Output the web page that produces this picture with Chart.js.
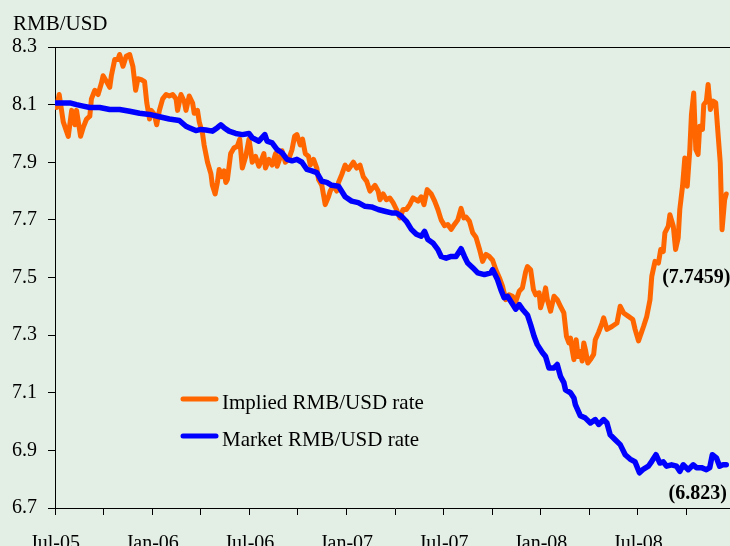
<!DOCTYPE html>
<html><head><meta charset="utf-8">
<script src="https://cdn.jsdelivr.net/npm/chart.js@4.4.0/dist/chart.umd.min.js"></script>
<style>
html,body{margin:0;padding:0;overflow:hidden;background:#E3EEE4;}
canvas{display:block;}
</style></head><body>
<canvas id="c" width="752" height="560" style="width:752px;height:560px"></canvas>
<script>
// months since Jul-2005 (x) and rates (y)
const implMonths = [
0.10,0.26,0.51,0.82,1.03,1.23,1.33,1.58,1.74,1.95,
2.15,2.25,2.46,2.66,2.87,2.97,3.18,3.38,3.48,3.69,
3.89,3.99,4.20,4.40,4.61,4.81,4.98,5.12,5.33,5.53,
5.67,5.84,5.94,6.14,6.28,6.45,6.65,6.86,7.06,7.27,
7.48,7.57,7.78,7.99,8.09,8.29,8.50,8.60,8.80,8.91,
9.11,9.21,9.42,9.63,9.72,9.89,10.03,10.14,10.30,10.44,
10.55,10.65,10.85,11.06,11.26,11.41,11.57,11.78,11.98,12.08,
12.18,12.39,12.59,12.70,12.90,13.00,13.21,13.41,13.62,13.72,
13.93,14.02,14.23,14.43,14.64,14.80,14.94,15.15,15.29,15.46,
15.66,15.77,15.97,16.17,16.28,16.48,16.69,16.89,17.00,17.20,
17.40,17.51,17.71,17.92,18.12,18.43,18.63,18.84,19.04,19.25,
19.45,19.76,19.96,20.07,20.27,20.47,20.68,20.88,21.09,21.30,
21.50,21.70,21.91,22.11,22.42,22.62,22.79,22.99,23.24,23.45,
23.65,23.85,24.06,24.26,24.47,24.67,24.88,25.08,25.25,25.39,
25.60,25.80,26.00,26.21,26.41,26.62,26.82,27.03,27.23,27.44,
27.64,27.84,28.05,28.26,28.46,28.67,28.87,29.07,29.18,29.38,
29.55,29.69,29.90,29.99,30.20,30.30,30.41,30.61,30.82,31.02,
31.22,31.43,31.59,31.74,31.84,31.94,32.05,32.19,32.31,32.45,
32.56,32.66,32.76,32.91,33.07,33.27,33.37,33.58,33.78,33.89,
34.09,34.40,34.71,34.91,35.12,35.42,35.69,35.83,36.04,36.35,
36.55,36.75,36.86,37.06,37.27,37.41,37.57,37.67,37.88,37.98,
38.19,38.33,38.49,38.59,38.76,38.90,39.05,39.21,39.31,39.45,
39.58,39.72,39.82,39.99,40.07,40.23,40.34,40.48,40.65,40.81,
40.95,41.09,41.20,41.36,41.46
];
const implRate = [
8.09,8.135,8.04,7.99,8.08,8.03,8.08,7.99,8.02,8.05,
8.06,8.12,8.15,8.135,8.175,8.20,8.18,8.16,8.20,8.257,
8.257,8.274,8.233,8.268,8.274,8.233,8.15,8.19,8.187,8.18,
8.106,8.05,8.08,8.066,8.03,8.08,8.12,8.135,8.13,8.135,
8.12,8.08,8.135,8.11,8.08,8.13,8.105,8.07,8.08,8.04,
8.00,7.96,7.90,7.86,7.82,7.79,7.83,7.875,7.85,7.87,
7.83,7.84,7.93,7.95,7.955,7.98,7.88,7.92,7.98,7.944,
7.90,7.92,7.886,7.90,7.93,7.88,7.91,7.89,7.93,7.886,
7.92,7.94,7.90,7.91,7.944,7.99,7.996,7.96,7.98,7.93,
7.92,7.89,7.91,7.88,7.84,7.82,7.753,7.78,7.80,7.82,
7.80,7.83,7.857,7.89,7.875,7.90,7.88,7.89,7.85,7.834,
7.80,7.82,7.80,7.77,7.79,7.77,7.776,7.76,7.736,7.707,
7.736,7.736,7.753,7.776,7.765,7.78,7.753,7.805,7.79,7.765,
7.736,7.70,7.68,7.684,7.667,7.684,7.70,7.74,7.707,7.71,
7.695,7.655,7.64,7.60,7.556,7.58,7.573,7.56,7.527,7.50,
7.47,7.423,7.44,7.435,7.417,7.452,7.464,7.52,7.538,7.527,
7.458,7.44,7.447,7.395,7.435,7.464,7.423,7.383,7.435,7.423,
7.40,7.377,7.296,7.273,7.29,7.25,7.215,7.284,7.226,7.243,
7.21,7.273,7.25,7.203,7.215,7.233,7.284,7.31,7.34,7.36,
7.32,7.33,7.342,7.40,7.377,7.365,7.354,7.32,7.28,7.33,
7.365,7.423,7.504,7.556,7.55,7.597,7.59,7.655,7.678,7.718,
7.678,7.597,7.637,7.736,7.817,7.915,7.817,7.944,8.066,8.14,
7.944,7.927,8.025,8.014,8.10,8.112,8.17,8.083,8.112,8.106,
8.0,7.898,7.666,7.77,7.79
];
const mktMonths = [
0.06,0.51,0.92,1.33,1.74,2.15,2.76,3.38,3.99,4.61,
5.22,5.84,6.45,7.06,7.68,8.09,8.29,8.70,9.01,9.32,
9.72,10.03,10.24,10.44,10.75,11.16,11.57,11.98,12.18,12.59,
12.96,13.10,13.41,13.72,14.02,14.33,14.64,14.94,15.25,15.56,
15.87,16.17,16.48,16.79,17.09,17.51,17.92,18.32,18.73,19.15,
19.55,19.96,20.37,20.78,21.09,21.39,21.70,22.01,22.32,22.62,
22.83,23.03,23.34,23.65,23.85,24.16,24.47,24.77,25.08,25.29,
25.49,25.80,26.11,26.52,26.92,27.03,27.33,27.54,27.74,27.95,
28.15,28.46,28.67,28.87,29.18,29.38,29.59,29.79,30.10,30.30,
30.51,30.82,31.02,31.22,31.43,31.53,31.84,32.05,32.14,32.45,
32.76,33.07,33.37,33.58,33.89,34.09,34.29,34.60,34.91,35.22,
35.52,35.83,36.10,36.35,36.65,36.86,37.12,37.36,37.57,37.77,
38.08,38.39,38.59,38.80,39.11,39.42,39.62,39.93,40.23,40.44,
40.60,40.85,41.05,41.26,41.46
];
const mktRate = [
8.106,8.106,8.106,8.10,8.095,8.09,8.09,8.083,8.083,8.077,
8.07,8.066,8.058,8.05,8.045,8.025,8.02,8.01,8.014,8.012,
8.008,8.02,8.03,8.02,8.008,8.0,7.996,8.0,7.985,7.973,
7.996,7.973,7.967,7.944,7.933,7.91,7.905,7.91,7.90,7.875,
7.87,7.864,7.834,7.83,7.82,7.817,7.78,7.765,7.76,7.747,
7.745,7.736,7.73,7.724,7.724,7.713,7.695,7.667,7.65,7.643,
7.66,7.632,7.62,7.597,7.573,7.567,7.573,7.573,7.60,7.573,
7.55,7.534,7.516,7.51,7.516,7.527,7.493,7.458,7.43,7.435,
7.417,7.39,7.406,7.39,7.37,7.336,7.296,7.267,7.24,7.226,
7.186,7.186,7.198,7.157,7.135,7.11,7.10,7.082,7.059,7.02,
7.012,6.995,7.007,6.99,7.007,6.995,6.954,6.937,6.92,6.885,
6.87,6.86,6.822,6.835,6.845,6.862,6.885,6.856,6.86,6.845,
6.85,6.845,6.827,6.85,6.833,6.85,6.84,6.84,6.833,6.84,
6.885,6.874,6.845,6.85,6.85
];
const seriesLabels = ['Implied RMB/USD rate', 'Market RMB/USD rate'];
const xTickMonths = [0,3,6,9,12,15,18,21,24,27,30,33,36,39,42];
const xLabelMonths = [0,6,12,18,24,30,36];
const xLabelTexts = ['Jul-05','Jan-06','Jul-06','Jan-07','Jul-07','Jan-08','Jul-08'];
const yTicks = [6.7,6.9,7.1,7.3,7.5,7.7,7.9,8.1,8.3];
const yUnit = 'RMB/USD';
const endLabels = ['(7.7459)', '(6.823)'];

const SERIF = '"Liberation Serif", "Times New Roman", serif';

const decor = {
  id: 'decor',
  afterDraw(chart) {
    const {ctx, chartArea: a, scales: {x, y}} = chart;
    ctx.save();
    ctx.strokeStyle = '#000'; ctx.lineWidth = 1;
    ctx.beginPath(); ctx.moveTo(a.left, Math.round(a.top) + 0.5); ctx.lineTo(a.right, Math.round(a.top) + 0.5); ctx.stroke();
    ctx.fillStyle = '#000';
    ctx.font = '21px ' + SERIF; ctx.textAlign = 'left'; ctx.textBaseline = 'alphabetic';
    ctx.fillText(yUnit, 13, 30);
    chart.data.datasets.forEach((ds, i) => {
      const ly = 399 + i * 37;
      ctx.strokeStyle = ds.borderColor; ctx.lineWidth = 5; ctx.lineCap = 'round';
      ctx.beginPath(); ctx.moveTo(183, ly); ctx.lineTo(216, ly); ctx.stroke();
      ctx.fillStyle = '#000'; ctx.font = '21px ' + SERIF;
      ctx.fillText(ds.label, 222, ly + 9.5);
    });
    ctx.font = 'bold 20px ' + SERIF; ctx.textAlign = 'left'; ctx.textBaseline = 'middle';
    ctx.fillText(endLabels[0], x.getPixelForValue(37.5), y.getPixelForValue(7.5));
    ctx.fillText(endLabels[1], x.getPixelForValue(37.9), y.getPixelForValue(6.75));
    ctx.restore();
  }
};

new Chart(document.getElementById('c'), {
  type: 'line',
  data: {
    datasets: [
      { label: seriesLabels[0], data: implMonths.map((m, i) => ({x: m, y: implRate[i]})),
        borderColor: '#FF6600', borderWidth: 5, order: 1 },
      { label: seriesLabels[1], data: mktMonths.map((m, i) => ({x: m, y: mktRate[i]})),
        borderColor: '#0000FF', borderWidth: 5.5, order: 0 }
    ]
  },
  options: {
    responsive: false, animation: false, events: [],
    layout: { padding: { top: 47, right: 1, left: 0, bottom: 0 } },
    elements: { point: { radius: 0 }, line: { tension: 0, borderJoinStyle: 'round', borderCapStyle: 'round' } },
    plugins: { legend: { display: false }, tooltip: { enabled: false } },
    scales: {
      x: {
        type: 'linear', min: 0, max: 42,
        afterBuildTicks: s => { s.ticks = xTickMonths.map(v => ({value: v})); },
        afterFit: s => { s.height = 52; },
        ticks: { autoSkip: false, maxRotation: 0, padding: 17, color: '#000',
          font: { family: SERIF, size: 20 },
          callback: v => { const k = xLabelMonths.indexOf(v); return k >= 0 ? xLabelTexts[k] : ''; } },
        grid: { drawOnChartArea: false, drawTicks: true, tickLength: 7, color: '#000' },
        border: { color: '#000', width: 1 }
      },
      y: {
        min: 6.7, max: 8.3,
        afterBuildTicks: s => { s.ticks = yTicks.map(v => ({value: v})); },
        afterFit: s => { s.width = 55; },
        ticks: { padding: 11, color: '#000', font: { family: SERIF, size: 20 },
          callback: v => v.toFixed(1) },
        grid: { drawOnChartArea: false, drawTicks: true, tickLength: 7, color: '#000' },
        border: { color: '#000', width: 1 }
      }
    }
  },
  plugins: [decor]
});
</script>
</body></html>
